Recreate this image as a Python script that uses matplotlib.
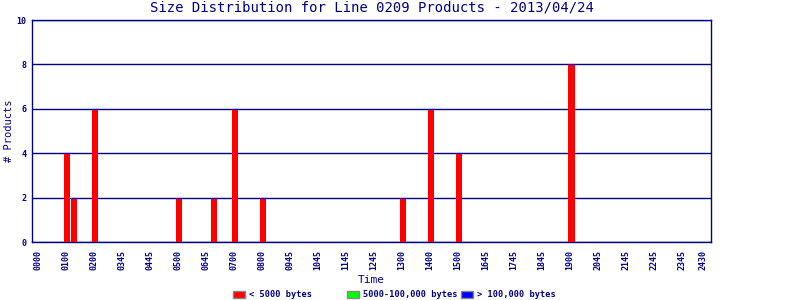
import numpy as np
import matplotlib
matplotlib.use("Agg")
import matplotlib.pyplot as plt
from matplotlib.patches import Patch

# data
tick_labels = ["0000", "0100", "0200", "0345", "0445", "0500", "0645", "0700",
               "0800", "0945", "1045", "1145", "1245", "1300", "1400", "1500",
               "1645", "1745", "1845", "1900", "2045", "2145", "2245", "2345",
               "2430"]
bin_hours = [1.0, 1.25, 2.0, 5.0, 6.25, 7.0, 8.0, 13.0, 14.0, 15.0, 19.0]
small = [4, 2, 6, 2, 2, 6, 2, 2, 6, 4, 8]        # < 5000 bytes
medium = [0] * len(small)                        # 5000-100,000 bytes
large = [0] * len(small)                         # > 100,000 bytes
series_names = ["< 5000 bytes", "5000-100,000 bytes", "> 100,000 bytes"]
series_colors = ["#ff0000", "#00ff00", "#0000ff"]

navy = "#000080"
font = "DejaVu Sans Mono"

fig = plt.figure(figsize=(8, 3), dpi=100)
ax = fig.add_axes([0.04, 0.193, 0.849, 0.74])

x = np.array(bin_hours) + 0.05
w = 0.22
ax.bar(x, small, width=w, color=series_colors[0], linewidth=0, zorder=3)
ax.bar(x, medium, width=w, bottom=small, color=series_colors[1], linewidth=0, zorder=3)
ax.bar(x, large, width=w, bottom=np.array(small) + np.array(medium), color=series_colors[2],
       edgecolor=series_colors[2], linewidth=0.8, zorder=3)

ax.set_ylim(0, 10)
ax.set_xlim(-0.21, 24.04)
ax.set_yticks(range(0, 11, 2))
ticks = list(range(len(tick_labels) - 1)) + [23.75]
ax.set_xticks(ticks)
ax.set_xticklabels(tick_labels, rotation=90, fontsize=6, family=font, color=navy,
                   fontweight="bold")
for t in ax.get_yticklabels():
    t.set_fontsize(6)
    t.set_family(font)
    t.set_color(navy)
    t.set_fontweight("bold")
ax.tick_params(length=0, pad=6)
ax.tick_params(axis="y", pad=4)
ax.grid(axis="y", color=navy, linewidth=1, zorder=1)
for s in ax.spines.values():
    s.set_color(navy)
    s.set_linewidth(1)

ax.set_title("Size Distribution for Line 0209 Products - 2013/04/24",
             fontsize=10, family=font, color=navy, pad=6)
ax.set_xlabel("Time", fontsize=8, family=font, color=navy, labelpad=3)
ax.set_ylabel("# Products", fontsize=7.5, family=font, color=navy, labelpad=2)

# legend entries sit at a fixed spacing along the bottom
for i, (name, c) in enumerate(zip(series_names, series_colors)):
    leg = fig.legend([Patch(facecolor=c, edgecolor="#888888", linewidth=1)], [name],
                     loc="center left", bbox_to_anchor=(0.291 + i * 0.1425, 0.017),
                     frameon=False, borderpad=0, borderaxespad=0,
                     prop={"family": font, "size": 6.2, "weight": "bold"},
                     handlelength=1.4, handleheight=0.9, handletextpad=0.5)
    leg.get_texts()[0].set_color(navy)

fig.savefig("out.png", dpi=100)
